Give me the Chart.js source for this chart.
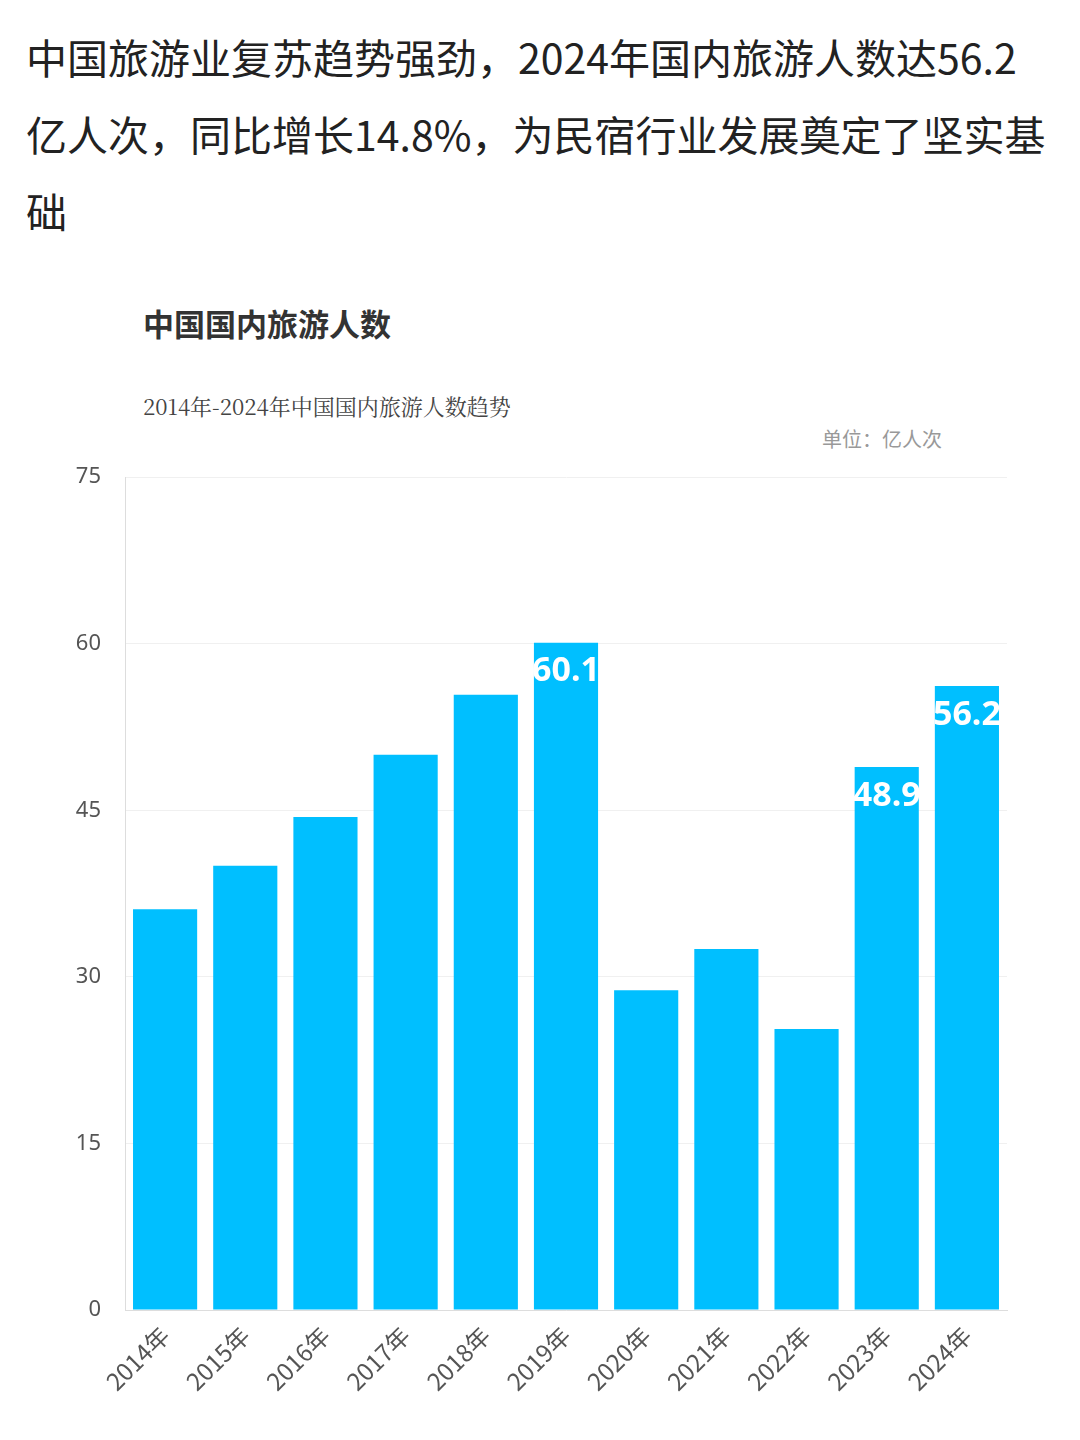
<!DOCTYPE html>
<html><head><meta charset="utf-8">
<script src="https://cdn.jsdelivr.net/npm/chart.js@4/dist/chart.umd.min.js"></script>
<style>
body{margin:0;width:1080px;height:1440px;background:#fff;position:relative;font-family:"Noto Sans CJK SC","Noto Sans",sans-serif;overflow:hidden}
#head{position:absolute;left:26px;top:18px;width:1030px;font-size:41px;line-height:77px;color:#222}
#t1{position:absolute;left:143px;top:300px;font-size:31px;font-weight:bold;color:#333}
#t2{position:absolute;left:143px;top:390px;font-size:22px;color:#444;font-family:"Noto Serif CJK SC","DejaVu Serif",serif}
#t3{position:absolute;left:822px;top:424px;font-size:20px;color:#999}
#wrap{position:absolute;left:0;top:440px;width:1080px;height:1000px}
</style></head><body>
<div id="head">中国旅游业复苏趋势强劲，2024年国内旅游人数达56.2亿人次，同比增长14.8%，为民宿行业发展奠定了坚实基础</div>
<div id="t1">中国国内旅游人数</div>
<div id="t2">2014年-2024年中国国内旅游人数趋势</div>
<div id="t3">单位：亿人次</div>
<div id="wrap"><canvas id="c"></canvas></div>
<script>
const categories=["2014年","2015年","2016年","2017年","2018年","2019年","2020年","2021年","2022年","2023年","2024年"];
const visitors=[36.1,40.0,44.4,50.0,55.4,60.1,28.8,32.5,25.3,48.9,56.2];
const labeled=[5,9,10];
const yTicks=[0,15,30,45,60,75];
const labelPlugin={id:'lbl',afterDatasetsDraw(ch){const ctx=ch.ctx;const m=ch.getDatasetMeta(0);ctx.save();ctx.fillStyle='#fff';ctx.font='bold 34px "Noto Sans",sans-serif';ctx.textAlign='center';ctx.textBaseline='top';
labeled.forEach(i=>{const b=m.data[i];ctx.fillText(String(visitors[i]),b.x,b.y+12);});ctx.restore();}};
new Chart(document.getElementById('c'),{type:'bar',
data:{labels:categories,datasets:[{data:visitors,backgroundColor:'#00BFFF',barPercentage:0.8,categoryPercentage:1}]},
options:{responsive:true,maintainAspectRatio:false,animation:false,
layout:{padding:{top:22,right:73,bottom:0,left:0}},
plugins:{legend:{display:false},tooltip:{enabled:false}},
scales:{
y:{min:0,max:75,afterBuildTicks(a){a.ticks=yTicks.map(v=>({value:v}));},afterFit(a){a.width=125;},
grid:{color:'#f0f0f0',drawTicks:false},border:{display:true,color:'#ddd'},
ticks:{padding:24,color:'#555',font:{size:22,family:'"Noto Sans",sans-serif'}}},
x:{grid:{display:false},border:{color:'#ddd'},afterFit(a){a.height=130;},
ticks:{maxRotation:45,minRotation:45,color:'#555',font:{size:24,family:'"Noto Sans CJK SC",sans-serif'}}}}},
plugins:[labelPlugin]});
</script></body></html>
